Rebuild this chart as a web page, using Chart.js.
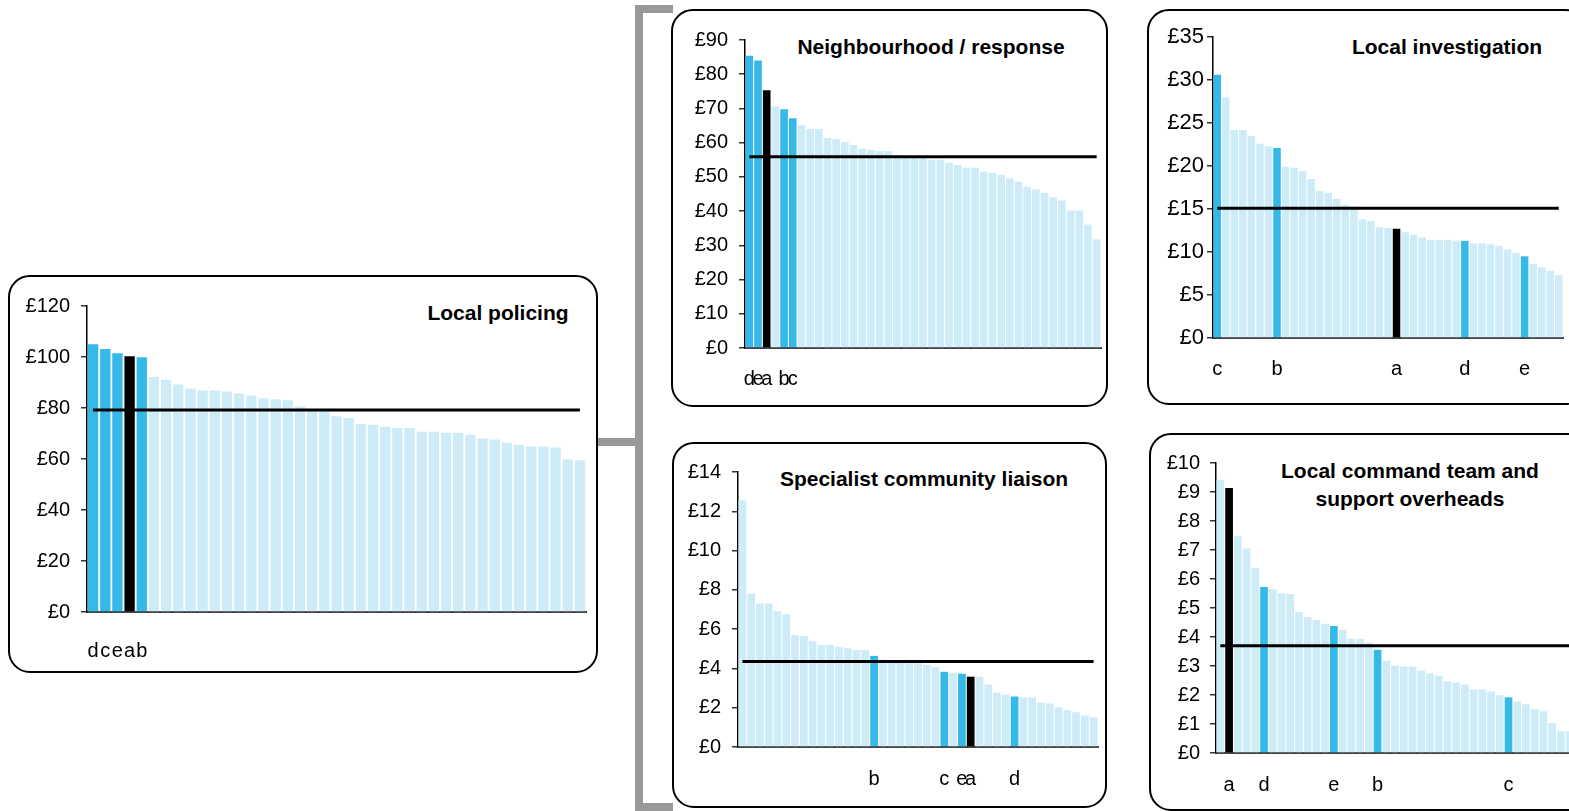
<!DOCTYPE html>
<html>
<head>
<meta charset="utf-8">
<script src="https://cdn.jsdelivr.net/npm/chart.js@4/dist/chart.umd.min.js"></script>
<style>
  body { margin: 0; width: 1569px; height: 811px; overflow: hidden; background: #fff; position: relative;
         font-family: 'Liberation Sans', Arial, sans-serif; }
  .box { position: absolute; border: 2px solid #000; border-radius: 22px; box-sizing: border-box; }
  .title { position: absolute; width: 420px; text-align: center; font-weight: bold; font-size: 21px;
           line-height: 28px; color: #000; }
  .bracket { position: absolute; background: #999; }
  canvas { position: absolute; }
</style>
</head>
<body>

<div class="bracket" style="left:635px;top:5px;width:8px;height:806px"></div>
<div class="bracket" style="left:635px;top:5px;width:38px;height:8px"></div>
<div class="bracket" style="left:597px;top:438px;width:46px;height:8px"></div>
<div class="bracket" style="left:635px;top:803px;width:38px;height:8px"></div>

<div class="box" style="left:8px;top:275px;width:590px;height:398px"></div>
<div class="box" style="left:671px;top:9px;width:437px;height:398px"></div>
<div class="box" style="left:1147px;top:9px;width:440px;height:396px"></div>
<div class="box" style="left:672px;top:442px;width:435px;height:366px"></div>
<div class="box" style="left:1149px;top:433px;width:440px;height:378px"></div>

<div class="title" style="left:288px;top:299px">Local policing</div>
<div class="title" style="left:721px;top:33px">Neighbourhood / response</div>
<div class="title" style="left:1237px;top:33px">Local investigation</div>
<div class="title" style="left:714px;top:465px">Specialist community liaison</div>
<div class="title" style="left:1200px;top:457px">Local command team and<br>support overheads</div>

<script>
// Local policing
const policingLabels = ['d','c','e','a','b','','','','','',
                        '','','','','','','','','','',
                        '','','','','','','','','','',
                        '','','','','','','','','','',''];
const policingValues = [105.0, 103.1, 101.5, 100.3, 99.9, 92.2, 91.1, 89.2, 87.6, 86.9,
                        86.9, 86.5, 85.7, 84.9, 83.8, 83.4, 83.0, 80.7, 79.4, 79.0,
                        76.8, 76.1, 73.7, 73.4, 72.6, 72.2, 72.2, 70.7, 70.7, 70.3,
                        70.3, 69.5, 68.0, 67.6, 66.4, 65.6, 64.9, 64.9, 64.5, 59.8, 59.5];
const policingAverage = 79.2;

// Neighbourhood / response
const neighbourhoodLabels = ['d','e','a','','b','c','','','','',
                             '','','','','','','','','','',
                             '','','','','','','','','','',
                             '','','','','','','','','','',''];
const neighbourhoodValues = [85.4, 84.0, 75.3, 70.6, 69.8, 67.1, 65.1, 64.0, 64.0, 61.4,
                             61.1, 60.2, 59.3, 58.2, 57.9, 57.6, 57.6, 56.3, 56.1, 56.1,
                             55.8, 55.0, 55.0, 54.1, 53.5, 52.7, 52.7, 51.5, 51.2, 50.6,
                             49.5, 48.6, 47.1, 46.3, 45.4, 44.0, 43.1, 40.2, 40.2, 36.1, 31.8];
const neighbourhoodAverage = 55.9;

// Local investigation
const investigationLabels = ['c','','','','','','','b','','',
                             '','','','','','','','','','',
                             '','a','','','','','','','','d',
                             '','','','','','','e','','','',''];
const investigationValues = [30.6, 28.0, 24.2, 24.2, 23.5, 22.6, 22.3, 22.1, 19.9, 19.8,
                             19.4, 18.5, 17.1, 16.9, 16.2, 15.5, 15.3, 13.8, 13.6, 12.9,
                             12.8, 12.7, 12.3, 12.0, 11.7, 11.4, 11.4, 11.4, 11.3, 11.3,
                             11.0, 11.0, 10.9, 10.7, 10.3, 9.9, 9.5, 8.6, 8.2, 7.8, 7.3];
const investigationAverage = 15.1;

// Specialist community liaison
const liaisonLabels = ['','','','','','','','','','',
                       '','','','','','b','','','','',
                       '','','','c','','e','a','','','',
                       '','d','','','','','','','','',''];
const liaisonValues = [12.55, 7.81, 7.31, 7.31, 6.91, 6.76, 5.70, 5.65, 5.39, 5.19,
                       5.19, 5.09, 5.03, 4.94, 4.94, 4.64, 4.44, 4.39, 4.39, 4.34,
                       4.29, 4.18, 4.08, 3.83, 3.78, 3.73, 3.58, 3.58, 3.18, 2.77,
                       2.67, 2.57, 2.52, 2.52, 2.27, 2.22, 2.02, 1.87, 1.77, 1.61, 1.51];
const liaisonAverage = 4.35;

// Local command team and support overheads
const commandLabels = ['','a','','','','d','','','','',
                       '','','','e','','','','','b','',
                       '','','','','','','','','','',
                       '','','','c','','','','','','',''];
const commandValues = [9.42, 9.14, 7.47, 7.05, 6.37, 5.72, 5.65, 5.51, 5.48, 4.86,
                       4.69, 4.59, 4.45, 4.38, 4.25, 3.94, 3.94, 3.80, 3.56, 3.18,
                       3.01, 2.98, 2.98, 2.84, 2.74, 2.67, 2.47, 2.43, 2.36, 2.19,
                       2.19, 2.12, 1.99, 1.92, 1.78, 1.68, 1.51, 1.44, 1.03, 0.75, 0.75];
const commandAverage = 3.70;

const BLUE = '#35b9e9';
const LIGHT = '#cdecf8';
const FONT = "'Liberation Sans', Arial, sans-serif";

function barColour(label) {
    if (label === 'a') return '#000000';
    return label ? BLUE : LIGHT;
}

function drawPanel(labels, values, average, g) {
    // canvas is placed so the plot area lands on the reference axes
    const rightPad = Math.max(10, g.xpad + 4);
    const left = g.axis - 70, top = g.top - 20;
    const w = Math.round(g.right - left + rightPad), h = Math.round(g.zero + 60 - top);
    const c = document.createElement('canvas');
    c.width = w; c.height = h;
    c.style.left = left + 'px'; c.style.top = top + 'px';
    c.style.width = w + 'px'; c.style.height = h + 'px';
    document.body.appendChild(c);
    return new Chart(c.getContext('2d'), {
        type: 'bar',
        data: {
            labels: labels,
            datasets: [{
                type: 'line',
                data: labels.map(() => average),
                borderColor: '#000',
                borderWidth: 3,
                pointRadius: 0,
                order: 0
            }, {
                data: values,
                backgroundColor: labels.map(barColour),
                barPercentage: g.bp,
                categoryPercentage: 1,
                order: 1
            }]
        },
        options: {
            responsive: false,
            animation: false,
            layout: { padding: { top: 20, right: rightPad, left: 0, bottom: 0 } },
            plugins: { legend: { display: false }, tooltip: { enabled: false } },
            scales: {
                x: {
                    grid: { display: false },
                    border: { color: '#444', width: 2 },
                    ticks: { autoSkip: false, maxRotation: 0, minRotation: 0, padding: g.xpad,
                             color: '#000', font: { size: 20, family: FONT } },
                    afterFit: s => { s.height = 60; }
                },
                y: {
                    min: 0,
                    max: g.max,
                    ticks: { stepSize: g.step, padding: g.ypad, color: '#000',
                             font: { size: g.yfont, family: FONT }, callback: v => '£' + v },
                    grid: { drawOnChartArea: false, drawTicks: true, tickLength: 6, color: '#333', lineWidth: 1.5 },
                    border: { color: '#000', width: 1.5 },
                    afterFit: s => { s.width = 70; }
                }
            }
        }
    });
}

drawPanel(policingLabels, policingValues, policingAverage,
    { axis: 87, right: 586, top: 303, zero: 612, max: 120, step: 20, bp: 0.85, xpad: 19, ypad: 11, yfont: 20 });
drawPanel(neighbourhoodLabels, neighbourhoodValues, neighbourhoodAverage,
    { axis: 745, right: 1101, top: 37, zero: 348, max: 90, step: 10, bp: 0.88, xpad: 11, ypad: 11, yfont: 20 });
drawPanel(investigationLabels, investigationValues, investigationAverage,
    { axis: 1213, right: 1563, top: 37, zero: 338, max: 35, step: 5, bp: 0.88, xpad: 11, ypad: 3, yfont: 22 });
drawPanel(liaisonLabels, liaisonValues, liaisonAverage,
    { axis: 738, right: 1098, top: 469, zero: 747, max: 14, step: 2, bp: 0.88, xpad: 12, ypad: 11, yfont: 20 });
drawPanel(commandLabels, commandValues, commandAverage,
    { axis: 1216, right: 1574, top: 461, zero: 753, max: 10, step: 1, bp: 0.88, xpad: 12, ypad: 10, yfont: 20 });
</script>
</body>
</html>
